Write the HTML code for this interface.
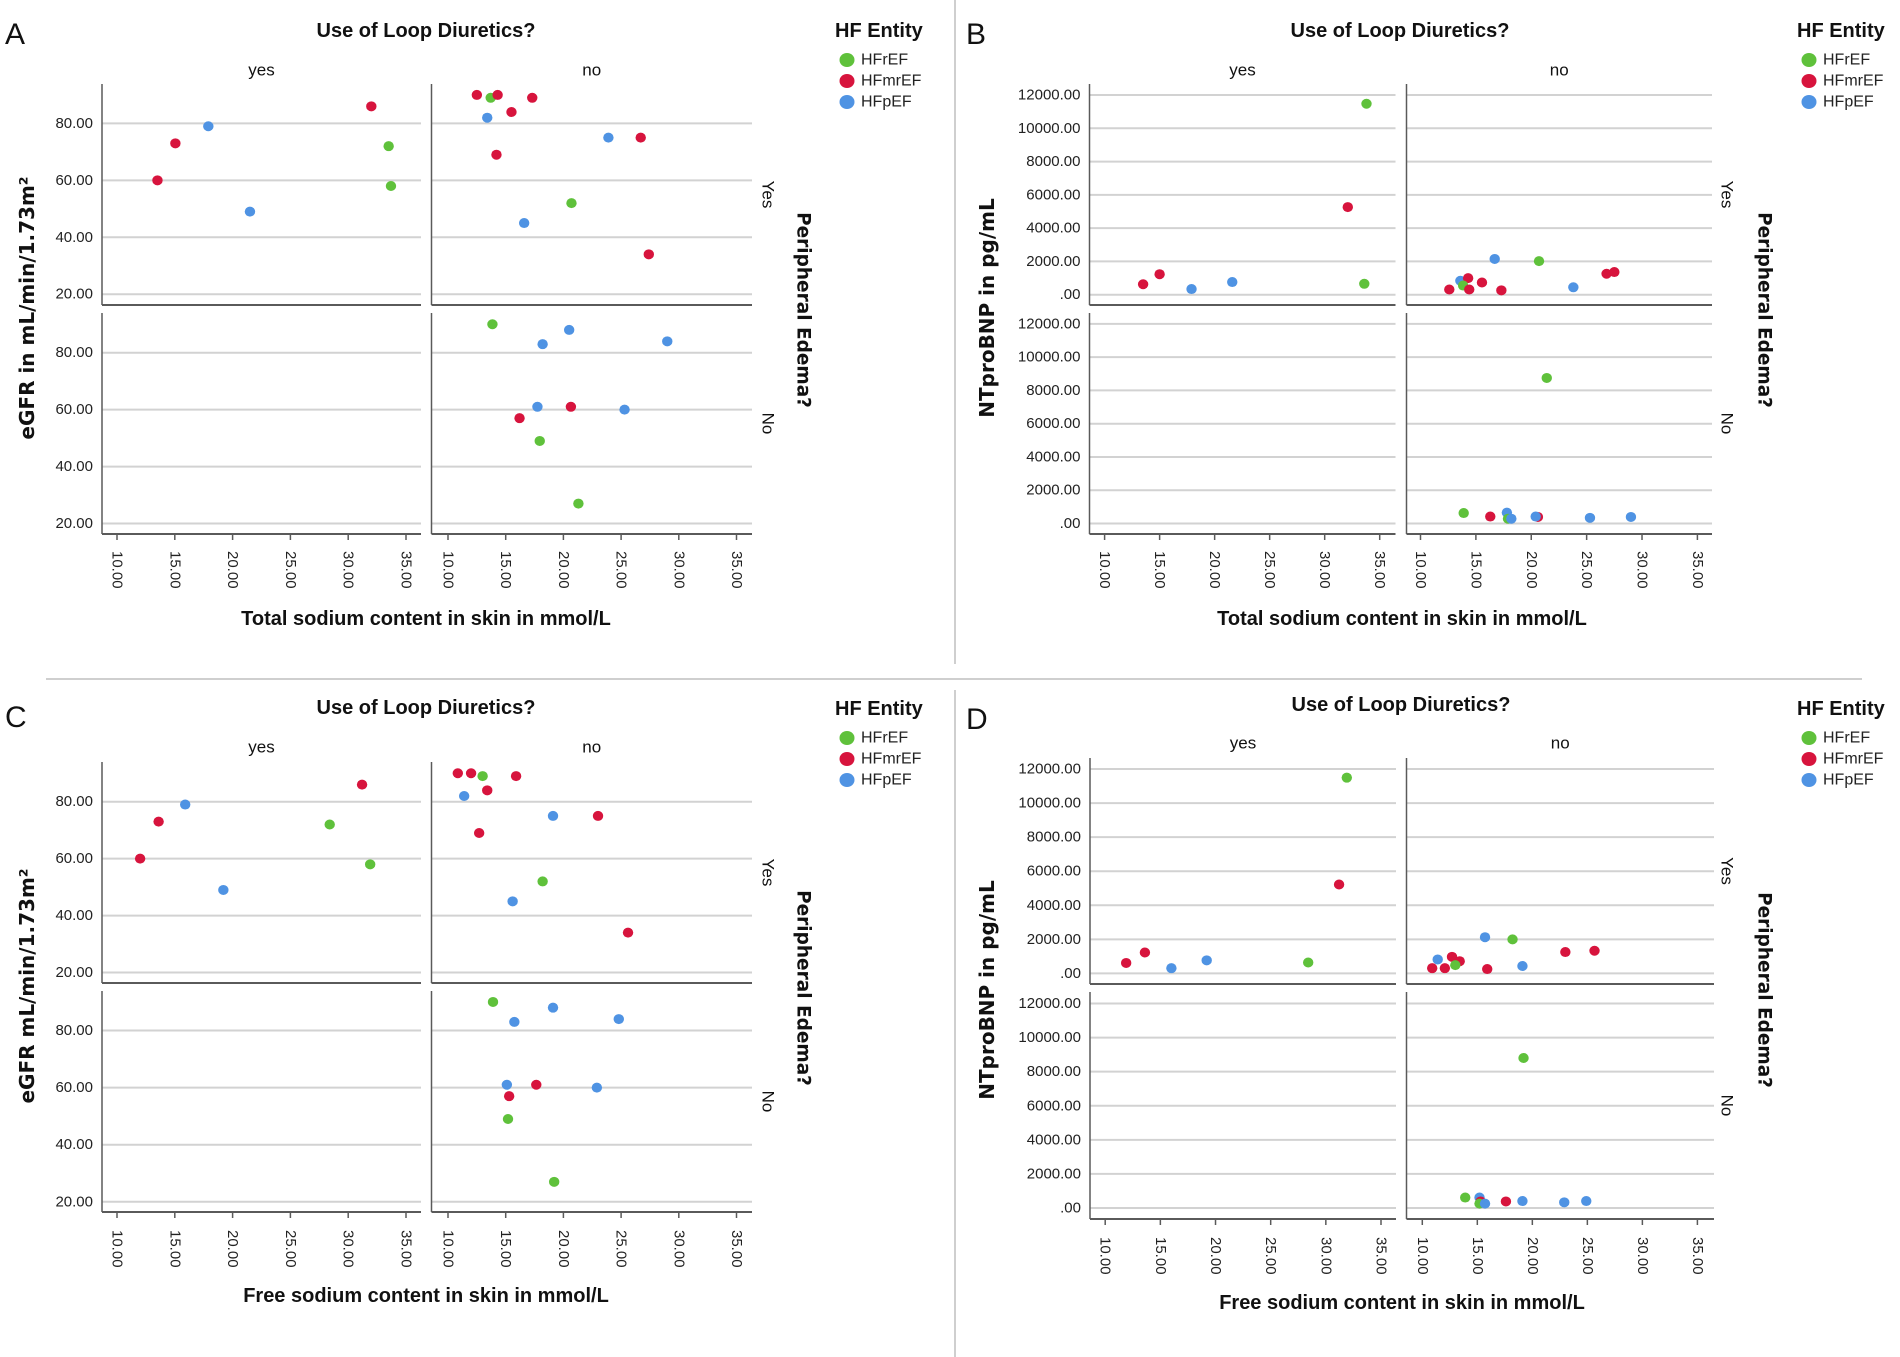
<!DOCTYPE html>
<html><head><meta charset="utf-8"><title>Skin sodium faceted scatter plots</title>
<style>
html,body{margin:0;padding:0;background:#fff;}
svg{display:block;font-family:"Liberation Sans",sans-serif;}
</style></head>
<body>
<svg id="fig" width="1900" height="1357" viewBox="0 0 1900 1357" xmlns="http://www.w3.org/2000/svg">
<rect width="1900" height="1357" fill="#fff"/>
<line x1="46" y1="679" x2="1862" y2="679" stroke="#cfcfcf" stroke-width="2"/>
<line x1="955" y1="0" x2="955" y2="664" stroke="#cfcfcf" stroke-width="2"/>
<line x1="955" y1="690" x2="955" y2="1357" stroke="#cfcfcf" stroke-width="2"/>
</svg>
<script>
// ---- data (g: 0=HFrEF, 1=HFmrEF, 2=HFpEF) ----
const groupNames = ['HFrEF','HFmrEF','HFpEF'];
const eGFRTicks = [20,40,60,80];
const bnpTicks = [0,2000,4000,6000,8000,10000,12000];
const xTicks = [10,15,20,25,30,35];

// Panel A: total sodium vs eGFR
const aYesYes_x = [32.0,17.9,15.05,33.5,13.5,33.7,21.5];
const aYesYes_y = [86,79,73,72,60,58,49];
const aYesYes_g = [1,2,1,0,1,0,2];
const aNoYes_x = [12.5,13.7,14.3,17.3,15.5,13.4,23.9,26.7,14.2,20.7,16.6,27.4];
const aNoYes_y = [90,89,90,89,84,82,75,75,69,52,45,34];
const aNoYes_g = [1,0,1,1,1,2,2,1,1,0,2,1];
const aNoNo_x = [13.85,20.5,18.2,29.0,17.75,20.65,25.3,16.2,17.95,21.3];
const aNoNo_y = [90,88,83,84,61,61,60,57,49,27];
const aNoNo_g = [0,2,2,2,2,1,2,1,0,0];

// Panel B: total sodium vs NTproBNP
const bYesYes_x = [33.8,32.1,13.5,15.0,17.9,21.6,33.6];
const bYesYes_y = [11475,5266,629,1231,340,760,655];
const bYesYes_g = [0,1,1,1,2,2,0];
const bNoYes_x = [16.7,20.7,26.8,27.5,13.6,14.3,13.85,15.55,12.6,14.4,17.3,23.8];
const bNoYes_y = [2148,2017,1258,1362,838,995,550,733,314,314,262,445];
const bNoYes_g = [2,0,1,1,2,1,0,1,1,1,1,2];
const bNoNo_x = [21.4,13.9,16.3,17.8,17.9,18.2,20.6,20.4,25.3,29.0];
const bNoNo_y = [8750,629,419,655,288,288,393,419,340,393];
const bNoNo_g = [0,0,1,2,0,2,1,2,2,2];

// Panel C: free sodium vs eGFR
const cYesYes_x = [31.2,15.9,13.6,28.4,12.0,31.9,19.2];
const cYesYes_y = [86,79,73,72,60,58,49];
const cYesYes_g = [1,2,1,0,1,0,2];
const cNoYes_x = [10.85,12.0,13.0,15.9,13.4,11.4,19.1,23.0,12.7,18.2,15.6,25.6];
const cNoYes_y = [90,90,89,89,84,82,75,75,69,52,45,34];
const cNoYes_g = [1,1,0,1,1,2,2,1,1,0,2,1];
const cNoNo_x = [13.9,19.1,15.75,24.8,15.1,17.65,22.9,15.3,15.2,19.2];
const cNoNo_y = [90,88,83,84,61,61,60,57,49,27];
const cNoNo_g = [0,2,2,2,2,1,2,1,0,0];

// Panel D: free sodium vs NTproBNP
const dYesYes_x = [31.9,31.2,11.9,13.6,16.0,19.2,28.4];
const dYesYes_y = [11490,5220,614,1228,307,768,640];
const dYesYes_g = [0,1,1,1,2,2,0];
const dNoYes_x = [15.7,18.2,23.0,25.65,11.4,12.7,13.4,13.0,10.9,12.05,15.9,19.1];
const dNoYes_y = [2124,1996,1254,1330,819,972,716,486,307,307,256,435];
const dNoYes_g = [2,0,1,1,2,1,1,0,1,1,1,2];
const dNoNo_x = [19.2,13.9,15.2,15.3,15.2,15.7,17.6,19.1,22.9,24.9];
const dNoNo_y = [8802,614,614,384,256,256,384,409,333,409];
const dNoNo_g = [0,0,2,1,0,2,1,2,2,2];

const colors = ['#5fc13b','#d7143d','#4f93e3'];
const NS = 'http://www.w3.org/2000/svg';
const svg = document.getElementById('fig');

function mk(tag, attrs, parent, text){
  const e = document.createElementNS(NS, tag);
  for (const k in attrs) e.setAttribute(k, attrs[k]);
  if (text !== undefined) e.textContent = text;
  (parent || svg).appendChild(e);
  return e;
}
function linScale(v0, p0, v1, p1){ return v => p0 + (v - v0) * (p1 - p0) / (v1 - v0); }

function drawPanel(P){
  const g = mk('g', {});
  
  

  const L = mk('text', {x:P.letterX, y:P.letterY, 'font-size':30, fill:'#111'}, g, P.letter);
  
  

  const T = mk('text', {x:P.titleX, y:P.titleY, 'font-size':20, 'font-weight':'bold', 'text-anchor':'middle', 'dominant-baseline':'central', fill:'#111'}, g, 'Use of Loop Diuretics?');
  
  

  const lg = mk('g', {}, g);
  
  
  const lt = mk('text', {x:P.legX, y:P.legTitleY, 'font-size':20, 'font-weight':'bold', 'dominant-baseline':'central', fill:'#111'}, lg, 'HF Entity');
  
  
  groupNames.forEach((n, i) => {
    const eg = mk('g', {}, lg);
    
    
    mk('ellipse', {cx:P.legX + 12, cy:P.legYs[i], rx:7.5, ry:7, fill:colors[i]}, eg);
    mk('text', {x:P.legX + 26, y:P.legYs[i], 'font-size':16, 'dominant-baseline':'central', fill:'#222'}, eg, n);
  });

  const yt = mk('text', {x:0, y:0, transform:`translate(${P.yTitleX},${P.yTitleY}) rotate(-90)`, 'font-family':'"DejaVu Sans",sans-serif', 'font-size':20, 'font-weight':'bold', 'text-anchor':'middle', 'dominant-baseline':'central', fill:'#111'}, g, P.yTitle);
  
  

  const rt = mk('text', {x:0, y:0, transform:`translate(${P.rowTitleX},${P.rowTitleY}) rotate(90)`, 'font-family':'"DejaVu Sans",sans-serif', 'font-size':18.5, 'font-weight':'bold', 'text-anchor':'middle', 'dominant-baseline':'central', fill:'#111'}, g, 'Peripheral Edema?');
  
  

  const xt = mk('text', {x:P.xTitleX, y:P.xTitleY, 'font-size':20, 'font-weight':'bold', 'text-anchor':'middle', 'dominant-baseline':'central', fill:'#111'}, g, P.xTitle);
  
  

  const colNames = ['yes','no'];
  const rowNames = ['Yes','No'];
  P.cols.forEach((c, ci) => {
    const ct = mk('text', {x:(c.axisX + c.right)/2, y:P.colLabelY, 'font-size':17, 'text-anchor':'middle', 'dominant-baseline':'central', fill:'#111'}, g, colNames[ci]);
    
    
  });
  P.rows.forEach((r, ri) => {
    const rl = mk('text', {x:0, y:0, transform:`translate(${P.rowLabelX},${(r.top + r.bottom)/2}) rotate(90)`, 'font-size':17, 'text-anchor':'middle', 'dominant-baseline':'central', fill:'#111'}, g, rowNames[ri]);
    
    
  });

  P.rows.forEach((r, ri) => {
    const ys = linScale(r.v0, r.p0, r.v1, r.p1);
    P.cols.forEach((c, ci) => {
      const xs = linScale(10, c.x10, 35, c.x35);
      const cell = mk('g', {}, g);
      
      
      P.yTicks.forEach(t => {
        const gl = mk('line', {x1:c.axisX, x2:c.right, y1:ys(t), y2:ys(t), stroke:'#d2d2d2', 'stroke-width':2}, cell);
        
        
      });
      if (ci === 0) {
        P.yTicks.forEach((t, ti) => {
          const tl = mk('text', {x:c.axisX - 9, y:ys(t), 'font-size':15, 'text-anchor':'end', 'dominant-baseline':'central', fill:'#222'}, cell, P.yLabels[ti]);
          
          
        });
      }
      const al = mk('line', {x1:c.axisX, x2:c.axisX, y1:r.top, y2:r.bottom, stroke:'#5a5a5a', 'stroke-width':1.5}, cell);
      
      
      const bl = mk('line', {x1:c.axisX, x2:c.right, y1:r.bottom, y2:r.bottom, stroke:'#5a5a5a', 'stroke-width':2}, cell);
      
      
      if (ri === 1) {
        xTicks.forEach(t => {
          const tk = mk('line', {x1:xs(t), x2:xs(t), y1:r.bottom, y2:r.bottom + 6, stroke:'#5a5a5a', 'stroke-width':1.5}, cell);
          
          
          const xl = mk('text', {x:0, y:0, transform:`translate(${xs(t)},${P.xTickY}) rotate(90)`, 'font-size':15, 'dominant-baseline':'central', fill:'#222'}, cell, t.toFixed(2));
          
          
        });
      }
      const d = P.data[ri][ci];
      if (d) {
        d[0].forEach((xv, i) => {
          const pt = mk('ellipse', {cx:xs(xv), cy:ys(d[1][i]), rx:5.2, ry:5, fill:colors[d[2][i]]}, cell);
          
          
        });
      }
    });
  });
}

const egfrLabels = eGFRTicks.map(t => t.toFixed(2));
const bnpLabels = bnpTicks.map(t => t === 0 ? '.00' : t.toFixed(2));

drawPanel({letter:'A', letterX:5, letterY:44, titleX:426, titleY:31, legX:835, legTitleY:31, legYs:[60,81,102],
  yTitle:'eGFR in mL/min/1.73m²', yTitleX:27, yTitleY:308, rowTitleX:803, rowTitleY:310, rowLabelX:768,
  xTitle:'Total sodium content in skin in mmol/L', xTitleX:426, xTitleY:619, colLabelY:70, xTickY:551,
  yTicks:eGFRTicks, yLabels:egfrLabels,
  cols:[{axisX:102,right:421,x10:117,x35:406},{axisX:431.5,right:752,x10:448,x35:736.5}],
  rows:[{top:84,bottom:305,v0:20,p0:294.2,v1:80,p1:123.4},{top:313,bottom:534,v0:20,p0:523.5,v1:80,p1:352.7}],
  data:[[[aYesYes_x,aYesYes_y,aYesYes_g],[aNoYes_x,aNoYes_y,aNoYes_g]],[null,[aNoNo_x,aNoNo_y,aNoNo_g]]]});

drawPanel({letter:'B', letterX:966, letterY:44, titleX:1400, titleY:31, legX:1797, legTitleY:31, legYs:[60,81,102],
  yTitle:'NTproBNP in pg/mL', yTitleX:987, yTitleY:308, rowTitleX:1764, rowTitleY:310, rowLabelX:1727,
  xTitle:'Total sodium content in skin in mmol/L', xTitleX:1402, xTitleY:619, colLabelY:70, xTickY:551,
  yTicks:bnpTicks, yLabels:bnpLabels,
  cols:[{axisX:1089.5,right:1395.5,x10:1104.6,x35:1379.7},{axisX:1406.5,right:1712,x10:1420.5,x35:1697.4}],
  rows:[{top:84,bottom:305,v0:0,p0:294.7,v1:12000,p1:95},{top:313,bottom:534,v0:0,p0:523.5,v1:12000,p1:323.9}],
  data:[[[bYesYes_x,bYesYes_y,bYesYes_g],[bNoYes_x,bNoYes_y,bNoYes_g]],[null,[bNoNo_x,bNoNo_y,bNoNo_g]]]});

drawPanel({letter:'C', letterX:5, letterY:727, titleX:426, titleY:708, legX:835, legTitleY:709, legYs:[738,759,780],
  yTitle:'eGFR mL/min/1.73m²', yTitleX:27, yTitleY:986, rowTitleX:803, rowTitleY:988, rowLabelX:768,
  xTitle:'Free sodium content in skin in mmol/L', xTitleX:426, xTitleY:1296, colLabelY:747, xTickY:1230,
  yTicks:eGFRTicks, yLabels:egfrLabels,
  cols:[{axisX:102,right:421,x10:117,x35:406},{axisX:431.5,right:752,x10:448,x35:736.5}],
  rows:[{top:762,bottom:983,v0:20,p0:972.5,v1:80,p1:801.7},{top:991,bottom:1212,v0:20,p0:1201.8,v1:80,p1:1030.5}],
  data:[[[cYesYes_x,cYesYes_y,cYesYes_g],[cNoYes_x,cNoYes_y,cNoYes_g]],[null,[cNoNo_x,cNoNo_y,cNoNo_g]]]});

drawPanel({letter:'D', letterX:966, letterY:729, titleX:1401, titleY:705, legX:1797, legTitleY:709, legYs:[738,759,780],
  yTitle:'NTproBNP in pg/mL', yTitleX:987, yTitleY:990, rowTitleX:1764, rowTitleY:990, rowLabelX:1727,
  xTitle:'Free sodium content in skin in mmol/L', xTitleX:1402, xTitleY:1303, colLabelY:743, xTickY:1237,
  yTicks:bnpTicks, yLabels:bnpLabels,
  cols:[{axisX:1090,right:1396,x10:1105.2,x35:1381},{axisX:1406.5,right:1714,x10:1422.3,x35:1697.4}],
  rows:[{top:758,bottom:984,v0:0,p0:973.4,v1:12000,p1:769},{top:992,bottom:1219,v0:0,p0:1208,v1:12000,p1:1003.5}],
  data:[[[dYesYes_x,dYesYes_y,dYesYes_g],[dNoYes_x,dNoYes_y,dNoYes_g]],[null,[dNoNo_x,dNoNo_y,dNoNo_g]]]});
</script>
</body></html>
